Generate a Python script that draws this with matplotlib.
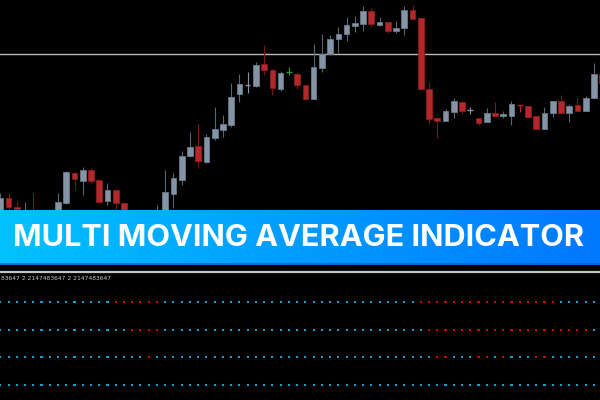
import matplotlib
matplotlib.use("Agg")
import matplotlib.pyplot as plt
import numpy as np
from matplotlib.colors import LinearSegmentedColormap

# ---------------- data ----------------
opens = [6, 22, 13, 4, 7, 2, -4, 8, 17, 47, 39, 50, 40, 19, 30, 17, 8, 1, -8, -2,
         7, 26, 40, 64, 74, 58, 82, 90, 95, 126, 135, 134, 156, 150, 131, 148, 146, 135, 121, 152,
         166, 181, 186, 194, 196, 209, 195, 198, 189, 192, 210, 202, 131, 102, 99, 108, 118, 110, 102, 98,
         107, 104, 104, 115, 114, 104, 91, 107, 119, 107, 115, 109, 122, 146]
highs = [27, 27, 19, 18, 27, 8, 5, 27, 49, 48, 53, 52, 40, 37, 30, 18, 10, 5, 2, 15,
         50, 47, 69, 88, 97, 86, 113, 105, 137, 146, 148, 158, 175, 151, 149, 153, 148, 135, 176, 186,
         185, 193, 203, 204, 214, 212, 203, 198, 199, 214, 215, 202, 138, 103, 111, 122, 118, 113, 102, 112,
         118, 109, 119, 115, 114, 104, 113, 119, 125, 116, 122, 124, 157, 146]
lows = [2, 8, 8, 0, -4, -8, -6, 5, 16, 30, 25, 37, 17, 15, 11, 6, -4, -10, -12, -5,
        4, 12, 35, 63, 53, 57, 80, 83, 93, 118, 127, 133, 145, 125, 129, 145, 131, 120, 121, 148,
        165, 167, 179, 188, 189, 193, 194, 187, 187, 185, 201, 131, 97, 82, 99, 102, 106, 106, 95, 98,
        104, 102, 95, 108, 103, 91, 91, 103, 107, 98, 109, 109, 122, 135]
closes = [22, 13, 11, 8, 0, -4, 0, 18, 48, 41, 50, 39, 18, 30, 17, 8, 0, -6, -1, 8,
          28, 42, 64, 73, 59, 83, 91, 96, 123, 136, 135, 155, 150, 132, 147, 148, 135, 121, 153, 166,
          181, 186, 195, 197, 209, 196, 198, 189, 192, 210, 201, 131, 101, 99, 109, 119, 109, 110, 97, 107,
          104, 106, 116, 115, 103, 91, 107, 119, 107, 114, 109, 122, 146, 137]
# colour of candles whose open equals close
doji_kind = {30: "up", 35: "green", 57: "up", 63: "down"}

price_line = 166  # horizontal grey level line

# lower panel: four dotted signal rows, indices of red (bearish) dots
n_dots = 73
red_rows = [
    list(range(14, 20)) + list(range(51, 68)),
    list(range(16, 20)) + list(range(52, 72)),
    [18, 53, 54, 58, 59, 61, 65, 66],
    [],
]
info_text = "83647 2 2147483647 2 2147483647"
banner_text = "MULTI MOVING AVERAGE INDICATOR"

# ---------------- styling ----------------
BG = "#000000"
UP_FILL, UP_EDGE, UP_WICK = "#8594a4", "#6b7989", "#5a6572"
DN_FILL, DN_EDGE, DN_WICK = "#b3282a", "#8e1c1e", "#7c1618"
GREEN = "#2f9a35"
DOT_BLUE, DOT_RED = "#119fd2", "#c80a0a"

W, H = 600, 400
fig = plt.figure(figsize=(6, 4), dpi=100, facecolor=BG)

step = 8.245
xl = (-0.3 / step, (W - 0.3) / step)

# ---- candlestick axes (pixel rows 0..270) ----
ax = fig.add_axes([0, 1 - 270 / H, 1, 270 / H])
ax.set_facecolor(BG)
ax.set_xlim(*xl)
ax.set_ylim(-50, 220)
ax.axis("off")

ax.axhline(price_line, color="#b8b8b8", lw=1.0, zorder=1)

for i, (o, h, l, c) in enumerate(zip(opens, highs, lows, closes)):
    if c > o:
        kind = "up"
    elif c < o:
        kind = "down"
    else:
        kind = doji_kind.get(i, "up")
    if kind == "up":
        fill, edge, wick = UP_FILL, UP_EDGE, UP_WICK
    elif kind == "down":
        fill, edge, wick = DN_FILL, DN_EDGE, DN_WICK
    else:
        fill, edge, wick = GREEN, GREEN, GREEN
    if o == c:
        wick = fill
    ax.vlines(i, l, h, color=wick, lw=0.8, zorder=2)
    lo, hi = min(o, c), max(o, c)
    if hi > lo:
        ax.bar(i, hi - lo, bottom=lo, width=0.69, color=fill, edgecolor=edge,
               linewidth=0.6, zorder=3)
    else:
        ax.hlines(o, i - 0.345, i + 0.345, color=fill, lw=1.0, zorder=3)

# ---- banner (pixel rows 210..265) ----
bax = fig.add_axes([0, 1 - 265 / H, 1, 55 / H])
cmap = LinearSegmentedColormap.from_list("bn", ["#00c2ff", "#009cff", "#0078ff"])
grad = np.linspace(0, 1, 256).reshape(1, -1)
bax.imshow(grad, aspect="auto", cmap=cmap, extent=[0, 1, 0, 1])
bax.axhline(0.01, color="#0062d0", lw=1.2)
bax.set_xlim(0, 1)
bax.set_ylim(0, 1)
bax.axis("off")
t = bax.text(0.4983, 0.49, banner_text, color="white", fontsize=24,
             fontweight="bold", family=["Inter", "DejaVu Sans"],
             ha="center", va="center")
fig.canvas.draw()
bb = t.get_window_extent(fig.canvas.get_renderer())
t.set_fontsize(24 * 572 / bb.width)

# ---- signal panel (pixel rows 272..400) ----
ax2 = fig.add_axes([0, 0, 1, 128 / H])
ax2.set_facecolor(BG)
ax2.set_xlim(*xl)
ax2.set_ylim(3.542, -1.084)
for s in ax2.spines.values():
    s.set_visible(False)
ax2.spines["top"].set_visible(True)
ax2.spines["top"].set_color("#c4c4c4")
ax2.spines["top"].set_linewidth(1.6)
ax2.set_xticks([])
ax2.set_yticks([])

idx = np.arange(n_dots)
for r, reds in enumerate(red_rows):
    cols = [DOT_RED if k in reds else DOT_BLUE for k in idx]
    ax2.scatter(idx, np.full(n_dots, r), s=2.2, marker="s", c=cols,
                linewidths=0, zorder=3)

fig.text(1 / W, 1 - 279 / H, info_text, color="#c8c8c8", fontsize=4.3,
         ha="left", va="center")

fig.savefig("out.png", dpi=100, facecolor=BG)
